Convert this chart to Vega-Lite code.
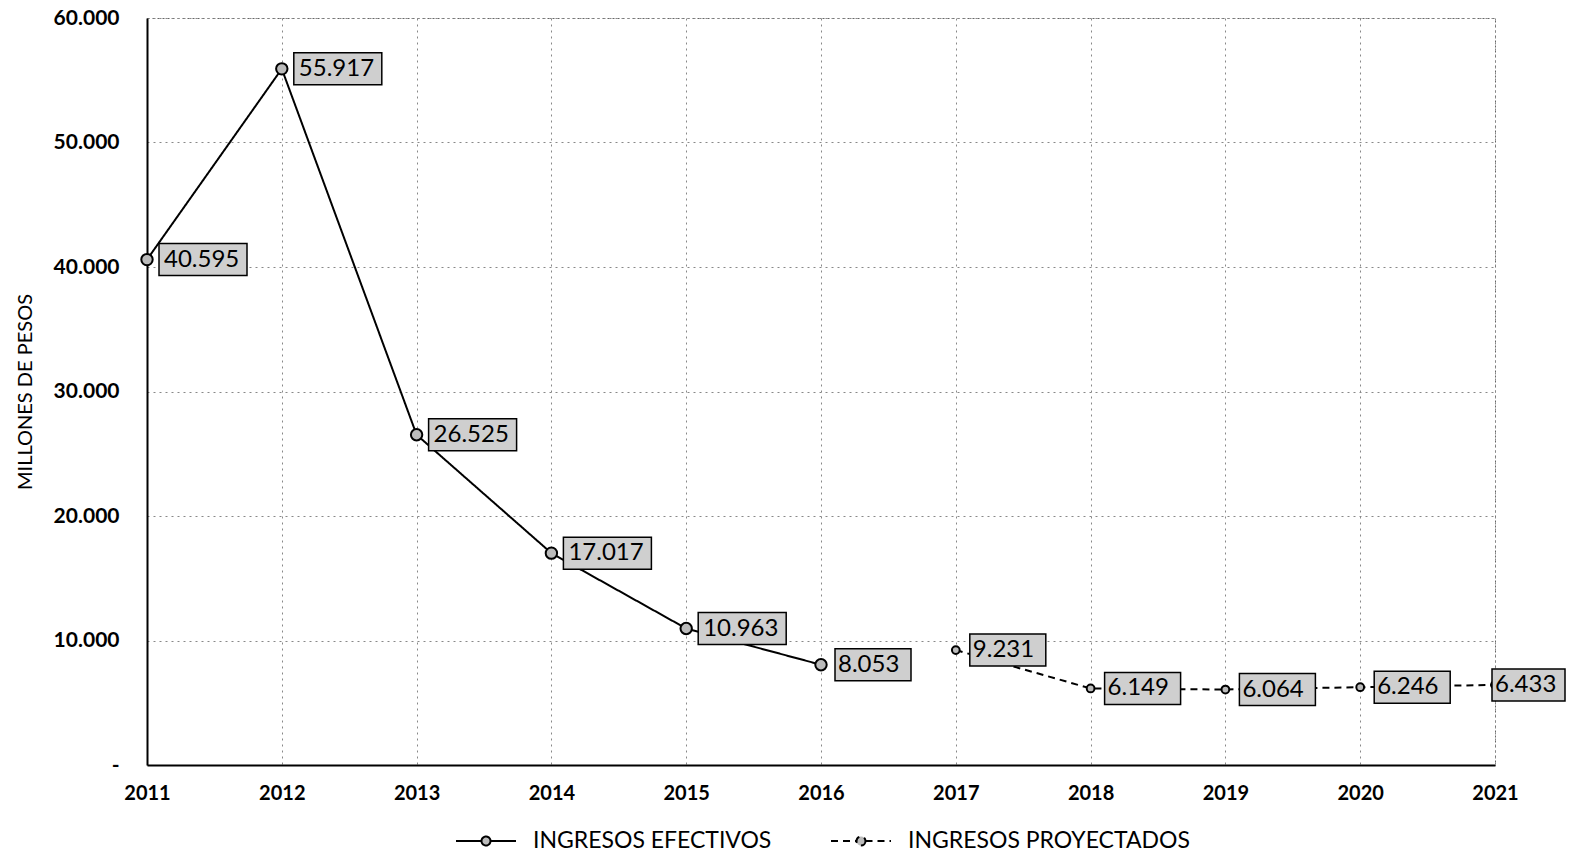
{
  "$schema": "https://vega.github.io/schema/vega-lite/v6.json",
  "autosize": {"type": "none"},
  "width": 1348,
  "height": 747,
  "padding": {"left": 147, "top": 18, "right": 77, "bottom": 93},
  "background": "white",
  "config": {
    "font": "Lato",
    "view": {"stroke": "#666", "strokeDash": [2, 3], "strokeWidth": 1},
    "axis": {
      "grid": true, "gridColor": "#888", "gridDash": [2, 4], "gridWidth": 1,
      "domainColor": "black", "domainWidth": 2, "ticks": false,
      "labelColor": "black", "labelFont": "Lato", "titleFont": "Lato", "titleColor": "black"
    }
  },
  "data": {
    "values": [
      {"year": 2011, "valor": 40595, "label": "40.595", "serie": "INGRESOS EFECTIVOS"},
      {"year": 2012, "valor": 55917, "label": "55.917", "serie": "INGRESOS EFECTIVOS"},
      {"year": 2013, "valor": 26525, "label": "26.525", "serie": "INGRESOS EFECTIVOS"},
      {"year": 2014, "valor": 17017, "label": "17.017", "serie": "INGRESOS EFECTIVOS"},
      {"year": 2015, "valor": 10963, "label": "10.963", "serie": "INGRESOS EFECTIVOS"},
      {"year": 2016, "valor": 8053, "label": "8.053", "serie": "INGRESOS EFECTIVOS"},
      {"year": 2017, "valor": 9231, "label": "9.231", "serie": "INGRESOS PROYECTADOS"},
      {"year": 2018, "valor": 6149, "label": "6.149", "serie": "INGRESOS PROYECTADOS"},
      {"year": 2019, "valor": 6064, "label": "6.064", "serie": "INGRESOS PROYECTADOS"},
      {"year": 2020, "valor": 6246, "label": "6.246", "serie": "INGRESOS PROYECTADOS"},
      {"year": 2021, "valor": 6433, "label": "6.433", "serie": "INGRESOS PROYECTADOS"}
    ]
  },
  "encoding": {
    "x": {
      "field": "year", "type": "quantitative",
      "scale": {"domain": [2011, 2021], "nice": false, "zero": false},
      "axis": {
        "title": null, "values": [2011, 2012, 2013, 2014, 2015, 2016, 2017, 2018, 2019, 2020, 2021],
        "format": "d", "labelFontSize": 20, "labelFontWeight": "bold", "labelPadding": 18,
        "labelFlush": false
      }
    },
    "y": {
      "field": "valor", "type": "quantitative",
      "scale": {"domain": [0, 60000], "nice": false},
      "axis": {
        "title": "MILLONES DE PESOS", "titleFontSize": 20, "titleFontWeight": "normal", "titlePadding": 18,
        "values": [0, 10000, 20000, 30000, 40000, 50000, 60000],
        "labelExpr": "datum.value == 0 ? '-' : replace(format(datum.value, ','), ',', '.')",
        "labelFontSize": 21, "labelFontWeight": "bold", "labelPadding": 28, "labelFlush": false
      }
    }
  },
  "layer": [
    {
      "mark": {"type": "line", "color": "black", "strokeWidth": 2},
      "encoding": {
        "strokeDash": {
          "field": "serie", "type": "nominal",
          "scale": {"domain": ["INGRESOS EFECTIVOS", "INGRESOS PROYECTADOS"], "range": [[1, 0], [7, 5]]},
          "legend": {
            "title": null, "orient": "none", "direction": "horizontal",
            "legendX": 308, "legendY": 792,
            "labelFontSize": 23, "labelFont": "Lato", "labelColor": "black", "labelLimit": 500,
            "symbolType": "M-1,0H-0.15M0.15,0H1M0.15,0A0.15,0.15 0 1 1 -0.15,0A0.15,0.15 0 1 1 0.15,0",
            "symbolSize": 3600, "symbolStrokeColor": "black", "symbolStrokeWidth": 2,
            "symbolFillColor": "#bbb", "columnPadding": 55, "labelOffset": 16
          }
        }
      }
    },
    {
      "transform": [{"filter": "datum.year <= 2016"}],
      "mark": {"type": "point", "shape": "circle", "filled": true, "fill": "#bbb", "stroke": "black", "strokeWidth": 2, "size": 130, "opacity": 1}
    },
    {
      "transform": [{"filter": "datum.year > 2016"}],
      "mark": {"type": "point", "shape": "circle", "filled": true, "fill": "#bbb", "stroke": "black", "strokeWidth": 2, "size": 60, "opacity": 1}
    },
    {
      "transform": [{"filter": "datum.year <= 2015"}],
      "mark": {"type": "rect", "fill": "#cfcfcf", "stroke": "black", "strokeWidth": 1.5, "xOffset": 12, "x2Offset": 100, "yOffset": -16, "y2Offset": 16},
      "encoding": {"x2": {"field": "year"}, "y2": {"field": "valor"}}
    },
    {
      "transform": [{"filter": "datum.year > 2015 && datum.year < 2021"}],
      "mark": {"type": "rect", "fill": "#cfcfcf", "stroke": "black", "strokeWidth": 1.5, "xOffset": 14, "x2Offset": 90, "yOffset": -16, "y2Offset": 16},
      "encoding": {"x2": {"field": "year"}, "y2": {"field": "valor"}}
    },
    {
      "transform": [{"filter": "datum.year == 2021"}],
      "mark": {"type": "rect", "fill": "#cfcfcf", "stroke": "black", "strokeWidth": 1.5, "xOffset": -3, "x2Offset": 70, "yOffset": -16, "y2Offset": 16},
      "encoding": {"x2": {"field": "year"}, "y2": {"field": "valor"}}
    },
    {
      "transform": [{"filter": "datum.year < 2021"}],
      "mark": {"type": "text", "align": "left", "baseline": "middle", "dx": 17, "fontSize": 24, "font": "Lato", "color": "black"},
      "encoding": {"text": {"field": "label"}}
    },
    {
      "transform": [{"filter": "datum.year == 2021"}],
      "mark": {"type": "text", "align": "left", "baseline": "middle", "dx": 0, "fontSize": 24, "font": "Lato", "color": "black"},
      "encoding": {"text": {"field": "label"}}
    }
  ]
}
